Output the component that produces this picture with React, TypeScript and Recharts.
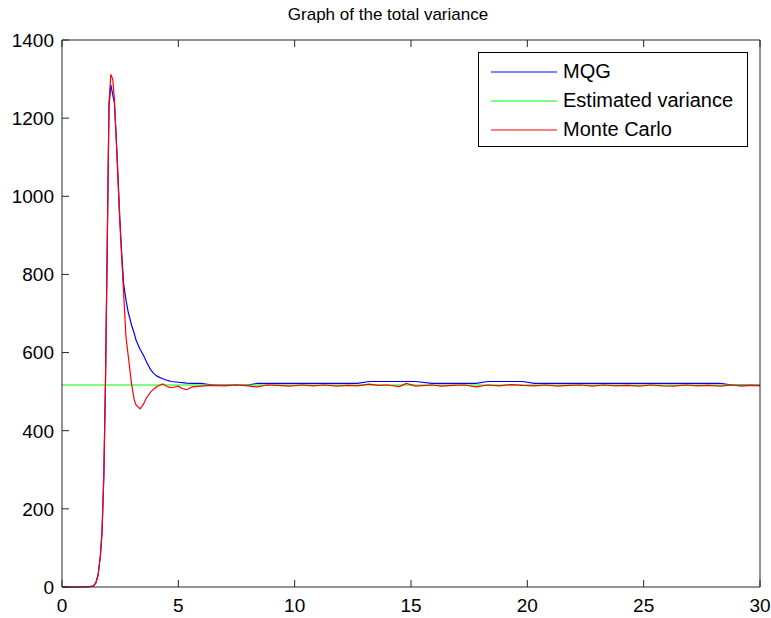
import { Legend, Line, LineChart, XAxis, YAxis } from "recharts";

const time = [
  0, 1.0, 1.34, 1.45, 1.55, 1.65, 1.72, 1.8, 1.87, 1.94, 2.02, 2.1, 2.18, 2.25, 2.33, 2.4, 2.48, 2.56,
  2.65, 2.75, 2.84, 2.99, 3.1, 3.18, 3.36, 3.5, 3.64, 3.8, 3.95, 4.1, 4.33, 4.56, 4.7, 5.0, 5.17, 5.35,
  5.6, 5.95, 6.5, 7.0, 7.5, 8.0, 8.4, 8.8, 9.3, 9.8, 10.3, 10.8, 11.3, 11.8, 12.3, 12.7, 13.2, 13.6, 14.0,
  14.5, 14.8, 15.2, 15.9, 16.3, 16.8, 17.3, 17.8, 18.3, 18.8, 19.3, 19.8, 20.3, 20.8, 21.3, 21.8, 22.3,
  22.8, 23.3, 23.8, 24.3, 24.8, 25.3, 25.8, 26.3, 26.8, 27.3, 27.8, 28.3, 28.8, 29.2, 29.6, 30,
];

const mqg = [
  0, 0, 2, 10, 30, 80, 140, 290, 530, 850, 1230, 1285, 1260, 1240, 1150, 1060, 950, 860,
  775, 735, 705, 670, 650, 632, 608, 593, 575, 557, 546, 539, 533, 528, 526, 524, 523, 522,
  521, 521, 517, 517, 517, 517, 521, 521, 521, 521, 521, 521, 521, 521, 521, 521, 526, 526, 526,
  526, 526, 526, 521, 521, 521, 521, 521, 526, 526, 526, 526, 521, 521, 521, 521, 521,
  521, 521, 521, 521, 521, 521, 521, 521, 521, 521, 521, 521, 517, 517, 517, 517,
];

const monteCarlo = [
  0, 0, 2, 10, 30, 80, 140, 290, 530, 860, 1240, 1312, 1300, 1250, 1150, 1050, 940, 850,
  750, 640, 595, 520, 480, 466, 456, 468, 485, 498, 507, 514, 520, 512, 510, 514, 508, 505,
  512, 514, 516, 515, 517, 515, 512, 517, 516, 514, 517, 515, 517, 514, 516, 515, 519, 516, 517,
  513, 521, 514, 517, 514, 516, 517, 512, 517, 515, 518, 516, 515, 517, 514, 516, 517,
  514, 517, 515, 516, 514, 517, 515, 514, 517, 515, 516, 514, 517, 514, 516, 515,
];

const estimatedVariance = 517;

const seriesNames = ["MQG", "Estimated variance", "Monte Carlo"];
const xTicks = [0, 5, 10, 15, 20, 25, 30];
const yTicks = [0, 200, 400, 600, 800, 1000, 1200, 1400];

const data = time.map((t, i) => ({
  t,
  mqg: mqg[i],
  est: estimatedVariance,
  mc: monteCarlo[i],
}));

const axisColor = "#262626";
const font = "'Liberation Sans', Arial, sans-serif";

const BottomTick = ({ x, y, payload }: any) => (
  <g>
    <line x1={x} x2={x} y1={y} y2={y - 7} stroke={axisColor} />
    <text x={x} y={y + 25} textAnchor="middle" fontSize={19} fontFamily={font} fill="#000">
      {payload.value}
    </text>
  </g>
);

const TopTick = ({ x, y }: any) => <line x1={x} x2={x} y1={y} y2={y + 7} stroke={axisColor} />;

const LeftTick = ({ x, y, payload }: any) => (
  <g>
    <line x1={x} x2={x + 7} y1={y} y2={y} stroke={axisColor} />
    <text x={x - 8} y={y} dy="0.36em" textAnchor="end" fontSize={19} fontFamily={font} fill="#000">
      {payload.value}
    </text>
  </g>
);

const RightTick = ({ x, y }: any) => <line x1={x} x2={x - 7} y1={y} y2={y} stroke={axisColor} />;

const LegendBox = ({ payload }: any) => {
  const items = [...(payload || [])].sort(
    (a: any, b: any) => seriesNames.indexOf(a.value) - seriesNames.indexOf(b.value)
  );
  return (
    <div
      style={{
        width: 270,
        height: 95,
        border: "1px solid #000",
        background: "#fff",
        fontFamily: font,
        fontSize: 20,
        paddingTop: 4,
        boxSizing: "border-box",
      }}
    >
      {items.map((p: any) => (
        <div key={p.value} style={{ display: "flex", alignItems: "center", height: 29 }}>
          <svg width={84} height={10} style={{ flex: "none" }}>
            <line x1={12} x2={78} y1={5} y2={5} stroke={p.color} strokeWidth={1.2} />
          </svg>
          <span style={{ lineHeight: "29px", color: "#000" }}>{p.value}</span>
        </div>
      ))}
    </div>
  );
};

export default function App() {
  return (
    <div style={{ position: "absolute", left: 0, top: 0, width: 771, height: 618, background: "#fff" }}>
      <div
        style={{
          position: "absolute",
          left: 0,
          width: 776,
          top: 5,
          textAlign: "center",
          fontFamily: font,
          fontSize: 17,
          color: "#000",
        }}
      >
        Graph of the total variance
      </div>
      <LineChart width={771} height={618} data={data} margin={{ top: 0, right: 0, bottom: 0, left: 0 }}>
        <XAxis
          dataKey="t"
          type="number"
          domain={[0, 30]}
          ticks={xTicks}
          height={31}
          tickSize={0}
          tickMargin={0}
          tickLine={false}
          tick={<BottomTick />}
          axisLine={{ stroke: axisColor }}
          interval={0}
        />
        <XAxis
          xAxisId="top"
          dataKey="t"
          orientation="top"
          type="number"
          domain={[0, 30]}
          ticks={xTicks}
          height={40}
          tickSize={0}
          tickMargin={0}
          tickLine={false}
          tick={<TopTick />}
          axisLine={{ stroke: axisColor }}
          interval={0}
        />
        <YAxis
          type="number"
          domain={[0, 1400]}
          ticks={yTicks}
          width={62}
          tickSize={0}
          tickMargin={0}
          tickLine={false}
          tick={<LeftTick />}
          axisLine={{ stroke: axisColor }}
          interval={0}
        />
        <YAxis
          yAxisId="right"
          orientation="right"
          type="number"
          domain={[0, 1400]}
          ticks={yTicks}
          width={11}
          tickSize={0}
          tickMargin={0}
          tickLine={false}
          tick={<RightTick />}
          axisLine={{ stroke: axisColor }}
          interval={0}
        />
        <Legend
          layout="vertical"
          align="center"
          verticalAlign="middle"
          content={<LegendBox />}
          wrapperStyle={{ left: 478, top: 52, width: 270, height: 95 }}
        />
        <Line dataKey="mqg" name="MQG" stroke="#0000ff" strokeWidth={1.2} dot={false} isAnimationActive={false} />
        <Line
          dataKey="est"
          name="Estimated variance"
          stroke="#00ff00"
          strokeWidth={1.2}
          dot={false}
          isAnimationActive={false}
        />
        <Line dataKey="mc" name="Monte Carlo" stroke="#ff0000" strokeWidth={1.2} dot={false} isAnimationActive={false} />
      </LineChart>
    </div>
  );
}
